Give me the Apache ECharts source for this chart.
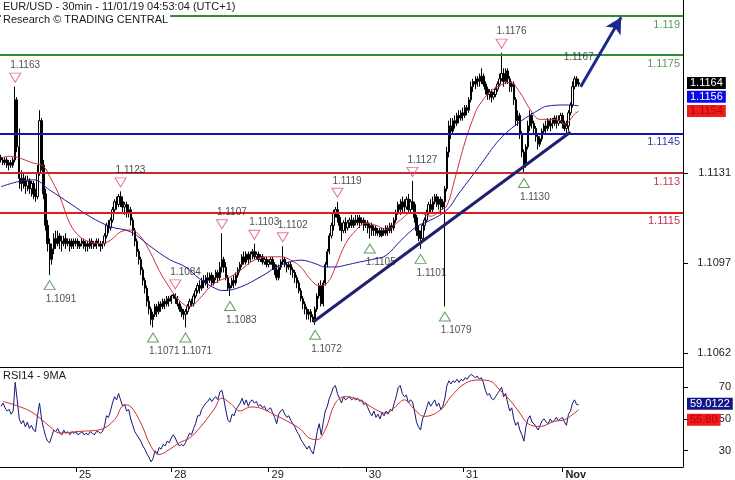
<!DOCTYPE html>
<html><head><meta charset="utf-8">
<script src="https://cdn.jsdelivr.net/npm/echarts@6/dist/echarts.min.js"></script>
<style>html,body{margin:0;padding:0;background:#fff}#c{width:735px;height:480px}</style>
</head><body><div id="c"></div>
<script>
// ---- data (prices stored as pips above 1.1000) ----
const PIP_BASE = 1.1, PIP = 0.0001;
const titleLine1 = 'EUR/USD - 30min - 11/01/19 04:53:04 (UTC+1)';
const titleLine2 = 'Research \u00A9 TRADING CENTRAL';
const rsiTitle = 'RSI14 - 9MA';
// 30-min slots (286 candles + blank future area)
const slotCount = 337;
const dayTickIdx = [37, 84, 132, 180, 228, 277];
const dayTickLabels = ['25', '28', '29', '30', '31', 'Nov'];
// candles: [open, close, low, high] in pips
const candlesPips = [
[136,135,134,137],[135,134,133,136],[134,135,133,136],[135,133,132,136],[133,134,131,135],[134,133,132,135],[133,135,132,136],[135,158,134,163],[158,140,138,159],[140,128,124,147],
[128,126,123,131],[126,128,124,130],[128,125,122,129],[125,127,123,129],[127,124,122,128],[124,126,121,127],[126,122,120,127],[122,121,119,124],[121,130,120,133],[130,150,129,154],
[150,133,131,151],[133,122,120,135],[122,110,108,124],[110,103,100,112],[103,97,91,105],[97,101,95,103],[101,105,99,107],[105,103,101,108],[103,106,102,108],[106,104,101,107],
[104,103,100,106],[103,105,102,106],[105,103,101,107],[103,104,102,105],[104,102,100,105],[102,104,101,105],[104,103,101,105],[103,104,102,105],[104,102,101,105],[102,103,101,104],
[103,104,102,105],[104,102,101,105],[102,103,100,104],[103,102,100,104],[102,104,101,105],[104,103,101,105],[103,102,101,104],[102,104,101,105],[104,103,102,105],[103,102,100,104],
[102,103,101,104],[103,106,102,107],[106,110,105,111],[110,109,107,112],[109,112,108,113],[112,116,111,117],[116,119,115,120],[119,118,116,121],[118,121,117,122],[121,119,117,123],
[119,117,115,121],[117,118,114,119],[118,115,113,119],[115,116,113,118],[116,112,110,117],[112,108,106,113],[108,104,102,109],[104,100,98,105],[100,97,95,101],[97,93,91,98],
[93,89,87,94],[89,86,84,90],[86,81,79,87],[81,78,76,83],[78,74,72,79],[74,76,71,77],[76,79,75,80],[79,77,75,80],[77,80,76,81],[80,79,77,81],
[79,81,78,82],[81,80,78,82],[80,82,79,83],[82,81,79,83],[81,83,80,83.5],[83,83.5,82,83.8],[83.5,82,80,84],[82,80,79,83],[80,78,77,81],[78,77,75,79],
[77,76,74,78],[76,77,71,78],[77,79,76,80],[79,81,78,82],[81,80,79,82],[80,83,79,84],[83,85,82,86],[85,87,84,88],[87,86,84,89],[86,89,85,90],
[89,88,86,91],[88,90,87,91],[90,89,86,92],[89,91,88,92],[91,88,87,92],[88,90,87,91],[90,92,89,93],[92,90,88,93],[90,94,89,96],[94,97,92,107],
[97,94,92,98],[94,90,89,96],[90,86,85,91],[86,87,83,88],[87,89,86,90],[89,88,86,91],[88,91,87,92],[91,93,90,94],[93,95,92,96],[95,98,94,99],
[98,96,95,100],[96,99,95,100],[99,97,95,100],[97,99,96,100],[99,100,97,101],[100,98,97,103],[98,99,97,100],[99,97,96,100],[97,98,96,99],[98,96,95,99],
[96,97,95,98],[97,95,94,98],[95,96,94,97],[96,97,95,98],[97,95,93,98],[95,93,91,96],[93,90,89,95],[90,94,89,95],[94,96,93,97],[96,97,95,102],
[97,95,94,98],[95,94,92,96],[94,95,93,96],[95,93,91,96],[93,92,90,94],[92,90,88,93],[90,88,86,91],[88,85,84,89],[85,82,81,86],[82,80,78,83],
[80,78,76,81],[78,76,74,79],[76,77,74,78],[77,75,73,78],[75,74,73,76],[74,78,72,79],[78,83,77,84],[83,87,82,88],[87,80,79,89],[80,88,79,89],
[88,95,87,96],[95,100,94,101],[100,106,99,107],[106,110,105,111],[110,115,108,116],[115,116,113,117],[116,113,111,119],[113,110,108,114],[110,108,104,111],[108,111,107,112],
[111,109,107,113],[109,111,108,112],[111,112,109,113],[112,110,109,114],[110,112,109,113],[112,111,110,114],[111,113,110,114],[113,111,109,114],[111,112,110,113],[112,110,108,113],
[110,111,109,112],[111,109,107,112],[109,110,105,111],[110,108,106,111],[108,109,106,110],[109,107,106,110],[107,108,106,109],[108,106,105.5,109],[106,108,105.5,109],[108,107,106,109],
[107,109,106,110],[109,108,106,110],[108,110,107,111],[110,109,107,111],[109,112,108,113],[112,115,111,116],[115,118,114,119],[118,116,114,120],[116,119,115,121],[119,117,115,120],
[117,120,116,121],[120,116,115,122],[116,119,115,120],[119,118,116,127],[118,113,111,119],[113,108,106,114],[108,106,104,110],[106,105,101,108],[105,110,104,111],[110,112,108,113],
[112,115,111,116],[115,118,114,119],[118,116,115,120],[116,119,115,121],[119,121,118,122],[121,118,117,122],[118,120,116,121],[120,117,115,121],[117,119,116,120],[119,124,79,125],
[124,138,123,140],[138,148,136,150],[148,146,143,151],[146,150,145,151],[150,149,147,152],[149,152,148,153],[152,151,149,154],[151,153,150,154],[153,152,150,155],[152,155,151,156],
[155,154,152,156],[154,158,153,159],[158,163,157,165],[163,165,161,166],[165,164,162,167],[164,166,163,167],[166,165,163,168],[165,167,164,170],[167,164,163,168],[164,162,160,165],
[162,160,158,163],[160,161,158,162],[161,159,157,162],[159,160,158,161],[160,162,159,163],[162,164,161,165],[164,166,163,168],[166,168,165,176],[168,165,163,170],[165,169,164,170],
[169,166,164,170],[166,163,161,167],[163,164,161,165],[164,158,156,165],[158,150,148,159],[150,152,148,154],[152,145,143,153],[145,138,136,146],[138,133,130,139],[133,140,132,141],
[140,148,139,150],[148,152,146,154],[152,149,147,153],[149,147,145,150],[147,144,142,148],[144,141,139,145],[141,143,140,144],[143,146,142,147],[146,148,145,149],[148,147,145,150],
[147,150,146,151],[150,148,146,151],[148,149,147,151],[149,151,148,152],[151,149,147,152],[149,150,148,152],[150,152,149,153],[152,149,147,153],[149,147,146,150],[147,148,145,150],
[148,153,146,154],[153,156,152,157],[156,163,155,165],[163,166,162,167],[166,164,163,167],[164.5,164,163,166]
];
// moving averages on price: [slot, pips]
const maRed = [[1,136],[4,136.4],[16,133.8],[21,132.5],[24,128.7],[29,121],[34,110.7],[39,105.6],[44,103.7],[49,103],[54,104.3],[59,107.5],[64,108.2],[69,105.6],[74,99.2],[78,92.8],[83,86.4],[88,81.3],[93,79],[98,82],[103,86.4],[108,89],[113,90.3],[118,92.8],[125,96.7],[133,98],[138,98],[143,96.7],[148,94],[152,90],[157,87],[161,88],[165,94],[170,103],[175,108],[180,110.8],[185,110],[190,108.5],[197,112],[202,114.6],[207,114.6],[212,113.5],[217,115.9],[220,117.5],[224,128],[229,142],[234,153],[236,156],[241,160.8],[246,163.4],[251,164.6],[256,160.8],[261,154.4],[266,150.5],[271,150.5],[276,150],[278,148.5],[283,152.5],[285,153.7]];
const maBlue = [[0,124.8],[9,126.8],[16,127.4],[24,123.5],[34,118.4],[44,113.3],[54,109.5],[64,107.5],[74,101.8],[83,97],[91,94.1],[98,89.6],[106,85.8],[110,85.1],[118,86.4],[128,90.3],[138,94.8],[148,96.7],[155,95.4],[160,94.1],[165,94.1],[170,94.8],[177,96],[185,97.3],[190,98.5],[197,104],[205,109.5],[212,112],[220,115.9],[226,122.3],[236,132.5],[246,142.8],[256,149.5],[266,154.4],[269,155.5],[279,156],[285,155.7]];
// horizontal levels
const levels = [1.119, 1.1175, 1.1145, 1.113, 1.1115];
const levelLabels = ['1.119', '1.1175', '1.1145', '1.113', '1.1115'];
// pivot highs / lows
const highIdx = [7, 59, 86, 109, 125, 139, 166, 203, 247];
const highVals = [1.1163, 1.1123, 1.1084, 1.1107, 1.1103, 1.1102, 1.1119, 1.1127, 1.1176];
const lowIdx = [24, 75, 91, 113, 155, 182, 207, 219, 258];
const lowVals = [1.1091, 1.1071, 1.1071, 1.1083, 1.1072, 1.1105, 1.1101, 1.1079, 1.1130];
const lastHigh = [285, 1.1167];
// trend line and projection arrow [slot, price]
const trendStart = [154, 1.10731], trendEnd = [281, 1.11457];
const arrowStart = [286, 1.1163], arrowEnd = [306, 1.11895];
// price axis ticks
const priceTicks = [1.10613, 1.10957, 1.11299];
const priceTickLabels = ['1.1062', '1.1097', '1.1131'];
// RSI(14)
const rsi = [
58,60,57,55,56,53,55,73,62,50, 47,49,45,48,44,46,43,42,52,60, 50,44,39,36,35,39,43,42,44,41,
40,43,41,42,40,42,41,42,40,41, 42,40,41,40,42,41,40,42,42,41, 42,45,52,51,55,60,64,62,66,62,
58,59,55,56,50,46,42,40,38,36, 33,31,28,26,23,25,30,28,32,31, 34,33,36,35,38,40,38,35,33,34,
33,35,38,41,40,44,47,52,52,56, 58,60,61,63,61,63,64,62,67,68, 62,55,49,48,53,52,56,58,60,63,
59,62,58,61,62,60,61,58,59,57, 58,55,56,57,54,51,47,53,55,56, 53,51,52,49,47,45,42,40,37,35,
33,31,33,30,28,34,42,47,40,48, 55,58,63,66,70,71,66,63,60,64, 62,63,64,62,63,62,63,61,62,59,
60,57,54,52,55,51,53,50,54,52, 55,53,56,55,60,64,70,71,66,64, 65,60,62,61,55,48,45,43,50,53,
57,61,58,60,62,58,60,56,58,63, 71,74,72,74,73,75,73,75,74,76, 75,77,78,77,76,77,75,76,73,68,
65,66,63,62,64,66,68,70,64,66, 60,55,57,50,46,48,43,40,36,45, 50,52,48,47,45,43,46,49,50,48,
47,50,48,49,51,49,50,51,48,46, 53,55,60,62,59,59
];
const rsiMa = [[1,61],[9,57.8],[16,53.7],[24,45.3],[29,41.2],[39,42.2],[49,43.3],[56,49.5],[61,58.9],[64,57.8],[69,47.4],[74,32.8],[78,27.6],[83,30.7],[88,35],[93,38],[98,44.3],[105,55.8],[109,63],[113,60],[118,55],[123,57.5],[128,56.8],[135,52.6],[143,47.4],[148,43.3],[152,38],[156,37],[160,43.3],[165,60],[170,64],[177,62],[185,55.8],[190,53.7],[194,57],[199,62],[204,56],[209,51.6],[217,55.8],[222,64],[229,72.4],[236,74.5],[241,74],[246,68.3],[251,62],[256,53.7],[260,47],[266,45.3],[273,48.5],[278,49.5],[283,53.7],[285,55.8]];
const rsiLastLabel = '59.0122';
const rsiTicks = [30, 50, 70];

// ---- build ----
const FONT = "'Liberation Sans', Arial, sans-serif";
const toPrice = p => +(PIP_BASE + p * PIP).toFixed(5);
const slots = Array.from({length: slotCount}, (_, i) => String(i));
const candles = candlesPips.map(c => c.map(toPrice));
const redLine = maRed.map(d => [d[0], toPrice(d[1])]);
const blueLine = maBlue.map(d => [d[0], toPrice(d[1])]);
const lastClose = candles[candles.length - 1][1];
const lastRed = redLine[redLine.length - 1][1];
const lastBlue = blueLine[blueLine.length - 1][1];
const lastRsiMa = rsiMa[rsiMa.length - 1][1];
const levelColors = ['#2f8f2f', '#2f8f2f', '#1515b5', '#c42b2b', '#e01b22'];
const levelTextColors = ['#5d9a5d', '#5d9a5d', '#3b3ba8', '#c04050', '#c03048'];

const boxLabel = (text, bg, fg, offY) => ({
  show: true, position: 'end', distance: 4, formatter: text,
  backgroundColor: bg, color: fg, padding: [1, 3, 0, 3], fontSize: 11, fontFamily: FONT,
  offset: [0, offY]
});

const option = {
  animation: false,
  backgroundColor: '#fff',
  textStyle: {fontFamily: FONT},
  title: [
    {text: titleLine1, left: 1, top: 0, padding: [1, 2, 0, 2], backgroundColor: '#fff',
     textStyle: {fontSize: 11, fontWeight: 'normal', color: '#1a1a1a', fontFamily: FONT}},
    {text: titleLine2, left: 1, top: 13, padding: [1, 2, 0, 2], backgroundColor: '#fff',
     textStyle: {fontSize: 11, fontWeight: 'normal', color: '#1a1a1a', fontFamily: FONT}},
    {text: rsiTitle, left: 1, top: 369, padding: [1, 2, 0, 2],
     textStyle: {fontSize: 11, fontWeight: 'normal', color: '#1a1a1a', fontFamily: FONT}}
  ],
  grid: [
    {left: 0, right: 52, top: 0, height: 367},
    {left: 0, right: 52, top: 367, height: 100.7}
  ],
  xAxis: [
    {type: 'category', gridIndex: 0, data: slots, boundaryGap: true,
     axisLine: {show: true, lineStyle: {color: '#000', width: 1}}, axisTick: {show: false},
     axisLabel: {show: false}, splitLine: {show: false}},
    {type: 'category', gridIndex: 1, data: slots, boundaryGap: true,
     axisLine: {show: true, lineStyle: {color: '#000', width: 1}},
     axisTick: {show: true, alignWithLabel: true, length: 5, lineStyle: {color: '#000'},
       interval: (i) => dayTickIdx.includes(i)},
     axisLabel: {show: true, interval: (i) => dayTickIdx.includes(i), align: 'left', margin: 2,
       padding: [0, 0, 0, 3], fontSize: 11, color: '#222', fontFamily: FONT,
       formatter: (v, i) => { const k = dayTickIdx.indexOf(+v); const t = k >= 0 ? dayTickLabels[k] : ''; return t === 'Nov' ? '{b|' + t + '}' : t; },
       rich: {b: {fontWeight: 'bold', fontSize: 11, color: '#222', fontFamily: FONT}}},
     splitLine: {show: false}}
  ],
  yAxis: [
    {type: 'value', gridIndex: 0, position: 'right', min: 1.105588, max: 1.119611, scale: true,
     axisLine: {show: true, lineStyle: {color: '#000'}},
     axisTick: {show: true, length: 5, customValues: priceTicks, lineStyle: {color: '#000'}},
     axisLabel: {show: true, customValues: priceTicks, align: 'right', margin: 48, fontSize: 11, color: '#222', fontFamily: FONT,
       formatter: v => { let k = 0, d = 1; priceTicks.forEach((t, j) => { if (Math.abs(t - v) < d) { d = Math.abs(t - v); k = j; } }); return priceTickLabels[k]; }},
     splitLine: {show: false}},
    {type: 'value', gridIndex: 1, position: 'right', min: 19.75, max: 82.7,
     axisLine: {show: true, lineStyle: {color: '#000'}},
     axisTick: {show: true, length: 5, customValues: rsiTicks, lineStyle: {color: '#000'}},
     axisLabel: {show: true, customValues: rsiTicks, align: 'right', margin: 48, fontSize: 11, color: '#222', fontFamily: FONT},
     splitLine: {show: false}}
  ],
  series: [
    {type: 'candlestick', name: 'EUR/USD', xAxisIndex: 0, yAxisIndex: 0, data: candles, barWidth: 1.8,
     itemStyle: {color: '#fff', color0: '#000', borderColor: '#000', borderColor0: '#000', borderWidth: 1},
     z: 2,
     markLine: {
       symbol: 'none', silent: true, animation: false, precision: 5,
       data: [
         ...levels.map((v, k) => ({yAxis: v, lineStyle: {color: levelColors[k], width: 2, type: 'solid'},
           label: {show: true, position: 'insideEndBottom', distance: 3, formatter: levelLabels[k], color: levelTextColors[k], fontSize: 11, fontFamily: FONT}})),
         [{coord: trendStart, lineStyle: {color: '#1e2070', width: 3, type: 'solid'}, label: {show: false}}, {coord: trendEnd}],
         [{coord: arrowStart, symbol: 'none', lineStyle: {color: '#1a2a8c', width: 3, type: 'solid'}, label: {show: false}}, {coord: arrowEnd, symbol: 'arrow', symbolSize: [13, 16]}],
         {yAxis: lastClose, lineStyle: {color: 'rgba(0,0,0,0)'}, label: boxLabel(lastClose.toFixed(4), '#000', '#fff', -1)},
         {yAxis: lastBlue, lineStyle: {color: 'rgba(0,0,0,0)'}, label: boxLabel(lastBlue.toFixed(4), '#0a0ae6', '#fff', -9)},
         {yAxis: lastRed, lineStyle: {color: 'rgba(0,0,0,0)'}, label: boxLabel(lastRed.toFixed(4), '#ee1c1c', '#c00000', 0)}
       ]
     }},
    {type: 'line', name: 'MA fast', xAxisIndex: 0, yAxisIndex: 0, data: redLine, smooth: 0.4, symbol: 'none',
     lineStyle: {color: '#d03040', width: 1}, z: 3},
    {type: 'line', name: 'MA slow', xAxisIndex: 0, yAxisIndex: 0, data: blueLine, smooth: 0.4, symbol: 'none',
     lineStyle: {color: '#1c1ca0', width: 1}, z: 3},
    {type: 'scatter', name: 'highs', xAxisIndex: 0, yAxisIndex: 0, data: highIdx.map((i, k) => [i, highVals[k]]),
     symbol: 'path://M0,0 L10,0 L5,9 Z', symbolSize: [11, 9], symbolOffset: [0, -9],
     itemStyle: {color: 'rgba(255,255,255,0)', borderColor: '#e0507a', borderWidth: 1}, z: 5,
     label: {show: true, position: 'top', distance: 2, align: 'left', offset: [-5, 0], fontSize: 10, color: '#222', fontFamily: FONT,
       formatter: p => highVals[p.dataIndex].toFixed(4)}},
    {type: 'scatter', name: 'lows', xAxisIndex: 0, yAxisIndex: 0, data: lowIdx.map((i, k) => [i, lowVals[k]]),
     symbol: 'path://M5,0 L10,9 L0,9 Z', symbolSize: [11, 9], symbolOffset: [0, 10],
     itemStyle: {color: 'rgba(255,255,255,0)', borderColor: '#3a8a3a', borderWidth: 1}, z: 5,
     label: {show: true, position: 'bottom', distance: 4, align: 'left', offset: [-4, 0], fontSize: 10, color: '#222', fontFamily: FONT,
       formatter: p => lowVals[p.dataIndex].toFixed(4)}},
    {type: 'scatter', name: 'last high', xAxisIndex: 0, yAxisIndex: 0, data: [lastHigh],
     symbolSize: 1, itemStyle: {color: 'rgba(0,0,0,0)'}, z: 5,
     label: {show: true, position: 'top', distance: 13, fontSize: 10, color: '#222', fontFamily: FONT,
       formatter: () => lastHigh[1].toFixed(4)}},
    {type: 'line', name: 'RSI14', xAxisIndex: 1, yAxisIndex: 1, data: rsi, symbol: 'none',
     lineStyle: {color: '#16167a', width: 1}, z: 3,
     markLine: {symbol: 'none', silent: true, animation: false,
       data: [{yAxis: rsi[rsi.length - 1], lineStyle: {color: 'rgba(0,0,0,0)'}, label: boxLabel(rsiLastLabel, '#14148a', '#fff', -1)}]}},
    {type: 'line', name: 'RSI MA9', xAxisIndex: 1, yAxisIndex: 1, data: rsiMa, smooth: 0.4, symbol: 'none',
     lineStyle: {color: '#cc3030', width: 1}, z: 3,
     markLine: {symbol: 'none', silent: true, animation: false,
       data: [{yAxis: lastRsiMa, lineStyle: {color: 'rgba(0,0,0,0)'}, label: boxLabel(lastRsiMa.toFixed(2), '#ee1c1c', '#c00000', 10)}]}}
  ]
};
const chart = echarts.init(document.getElementById('c'), null, {renderer: 'canvas'});
chart.setOption(option);
</script></body></html>
